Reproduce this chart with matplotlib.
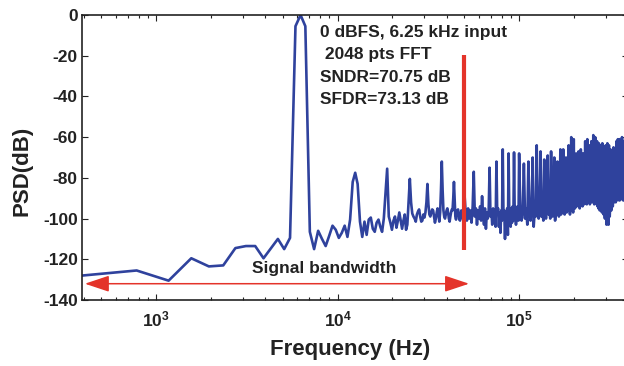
import numpy as np
import matplotlib
matplotlib.use('Agg')
import matplotlib.pyplot as plt
from matplotlib.ticker import NullFormatter

plt.rcParams['font.family'] = 'Liberation Sans'
plt.rcParams['font.weight'] = 'bold'
plt.rcParams['axes.unicode_minus'] = False
plt.rcParams['mathtext.fontset'] = 'custom'
plt.rcParams['mathtext.bf'] = 'Liberation Sans:bold'
plt.rcParams['mathtext.rm'] = 'Liberation Sans:bold'

# FFT setup: 2048 pts, bins of 390.625 Hz up to Nyquist (400 kHz)
fs = 800e3
nfft = 2048
bin_hz = fs / nfft

# PSD (dB)
# bins 1..128, every bin
psd_low = [
    -128, -125.5, -130.5, -119.5, -123.5, -123, -114.5, -113.5, -113.5, -119.5, -114.5, -110, -115, -109.5, -5.5, 0,
    -5.5, -106.5, -115, -106, -110, -113.5, -108.5, -103.5, -105.5, -109.5, -107, -103.5, -109, -100.5, -82, -77.5,
    -83, -101.5, -109, -101.5, -108, -100.5, -99.5, -105, -106.5, -102, -100.5, -104, -106.5, -100, -88, -75.5,
    -99, -102, -105.5, -101, -99, -104.5, -101, -97, -101, -105, -101, -98, -105.5, -103, -92, -80.5,
    -92, -97.5, -99, -100, -101.5, -98, -96.5, -95.5, -99, -101.5, -101, -98, -99.5, -97, -92, -83,
    -93, -98, -99, -97, -95.5, -96, -99, -102, -100, -97, -95, -98, -101.5, -97, -86, -72,
    -86, -96, -99, -100, -98, -96, -95, -97, -100, -101.5, -99, -97, -95.5, -96, -90, -82,
    -91, -99, -100.5, -98, -96, -95.5, -98, -100.5, -101, -98, -96, -97, -100, -99, -95, -88,
]
# bins 130..256, every 2nd bin
psd_mid = [
    -97, -101, -95, -100, -96, -102, -94, -77, -99, -95, -103, -96, -100, -94, -101, -89,
    -98, -103, -95, -105, -97, -100, -96, -75, -99, -96, -103, -95, -101, -97, -104, -72,
    -98, -95, -104, -97, -107, -96, -101, -66, -100, -96, -110, -97, -103, -95, -108, -68,
    -98, -95, -104, -96, -102, -94, -101, -67.5, -97, -94, -103, -95, -100, -94, -101, -68,
]
# bins 260..1024, every 4th bin
psd_high = [
    -96, -101, -97, -73, -100, -95, -103, -72, -97, -101, -95, -70, -104, -96, -99, -64,
    -95, -100, -97, -67, -99, -95, -101, -71, -96, -100, -94, -69, -98, -95, -100, -67,
    -94, -99, -96, -70, -101, -95, -98, -72, -96, -99, -94, -66, -98, -95, -97, -66,
    -94, -98, -95, -70, -97, -93, -96, -64, -95, -98, -93, -60, -96, -93, -97, -61,
    -92, -95, -93, -68, -94, -91, -93, -67, -92, -95, -91, -66, -93, -90, -94, -68,
    -91, -93, -90, -62, -92, -90, -93, -61, -90, -92, -91, -64, -93, -90, -92, -62,
    -91, -89, -92, -59, -90, -93, -91, -60, -92, -90, -93, -62, -94, -91, -95, -63,
    -93, -96, -92, -64, -95, -93, -97, -63, -96, -94, -98, -65, -97, -100, -95, -64,
    -99, -103, -97, -63, -101, -97, -103, -64, -96, -99, -94, -66, -93, -96, -92, -67,
    -91, -94, -90, -65, -92, -89, -91, -66, -90, -92, -89, -62, -89, -91, -88, -61,
    -90, -88, -91, -61, -89, -91, -88, -63, -88, -90, -89, -60, -90, -88, -91, -62,
    -89, -91, -88, -64, -90, -88, -90, -65, -89, -91, -88, -66, -90, -89, -90, -68,
]

bins = np.concatenate([np.arange(1, len(psd_low) + 1),
                       130 + 2 * np.arange(len(psd_mid)),
                       260 + 4 * np.arange(len(psd_high))])
freq = bins * bin_hz
psd = np.concatenate([psd_low, psd_mid, psd_high])

band_edge = 50e3
info_lines = ['0 dBFS, 6.25 kHz input', ' 2048 pts FFT', 'SNDR=70.75 dB', 'SFDR=73.13 dB']
info_y = [-8.8, -19.6, -30.5, -41.3]

blue = '#2f429d'
red = '#e4342a'

fig = plt.figure(figsize=(6.24, 3.66), dpi=100)
ax = fig.add_axes([82 / 624, 66 / 366, 546.4 / 624, 285 / 366])

ax.semilogx(freq, psd, color=blue, lw=1.9, zorder=2)
ax.vlines(band_edge, -115.4, -19.6, color=red, lw=3, zorder=3)
ax.annotate('', xy=(53e3, -132), xytext=(405, -132),
            arrowprops=dict(arrowstyle='<|-|>,head_length=0.75,head_width=0.25',
                            color=red, lw=1.1, mutation_scale=20,
                            shrinkA=0, shrinkB=0))
ax.text(8.47e3, -124.3, 'Signal bandwidth', ha='center', va='center',
        fontsize=12.5, fontweight='bold', color='#222222')
for line, y in zip(info_lines, info_y):
    ax.text(7.96e3, y, line, ha='left', va='center', fontsize=12.5,
            fontweight='bold', color='#222222')

ax.set_xlim(bin_hz, fs / 2)
ax.set_ylim(-140, 0)
ax.set_yticks(np.arange(-140, 1, 20))
ax.set_yticklabels([str(v) for v in range(-140, 1, 20)])
ax.set_xticks([1e3, 1e4, 1e5])
ax.set_xticklabels([r'$\mathbf{10^{3}}$', r'$\mathbf{10^{4}}$', r'$\mathbf{10^{5}}$'])
ax.xaxis.set_minor_formatter(NullFormatter())
ax.tick_params(which='both', direction='in', top=True, right=True, width=0.8,
               colors='#222222', labelsize=12.5)
ax.tick_params(which='major', length=4.5)
ax.tick_params(which='minor', length=2.5)
ax.tick_params(axis='y', pad=3)
ax.tick_params(axis='x', pad=7)
for s in ax.spines.values():
    s.set_linewidth(1.2)
    s.set_color('#222222')

fig.text(22 / 624, 1 - 171 / 366, 'PSD(dB)', rotation=90, ha='center', va='center',
         fontsize=16, fontweight='bold', color='#222222')
fig.text(350 / 624, 1 - 350 / 366, 'Frequency (Hz)', ha='center', va='center',
         fontsize=16, fontweight='bold', color='#222222')

fig.savefig('out.png', dpi=100)
